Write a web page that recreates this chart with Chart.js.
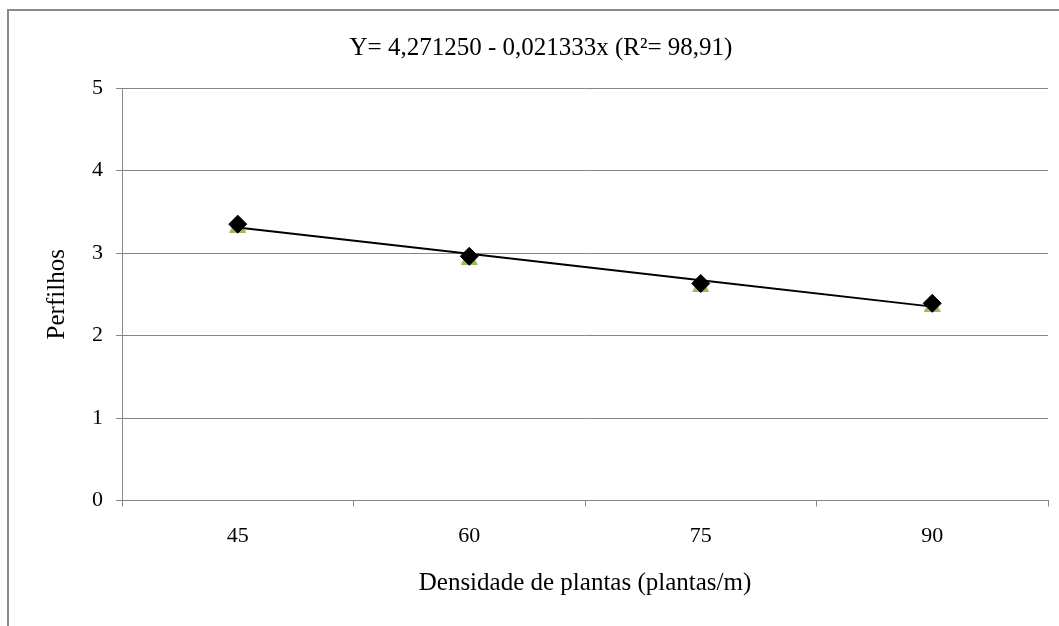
<!DOCTYPE html>
<html>
<head>
<meta charset="utf-8">
<script src="https://cdn.jsdelivr.net/npm/chart.js@4.4.1/dist/chart.umd.min.js"></script>
<style>
    html, body { margin: 0; padding: 0; background: #fff; }
    #wrap { position: relative; width: 1059px; height: 626px; }
</style>
</head>
<body>
<div id="wrap"><canvas id="perfilhosChart" width="1059" height="626"></canvas></div>
<script>
    var densidades = ['45', '60', '75', '90'];
    var perfilhosObservados = [3.35, 2.96, 2.63, 2.39];
    var perfilhosEstimados = [3.31, 2.99, 2.67, 2.35];
    var yTicks = [0, 1, 2, 3, 4, 5];
    var equacao = 'Y= 4,271250 - 0,021333x (R²= 98,91)';

    var serif = '"Liberation Serif", "Times New Roman", serif';
    var gridGrey = '#868686';

    // Excel style triangle marker: apex on top, base on the bottom edge of the box
    function triangleMarker(size, color) {
        var cv = document.createElement('canvas');
        cv.width = size;
        cv.height = size;
        var c = cv.getContext('2d');
        c.fillStyle = color;
        c.beginPath();
        c.moveTo(size / 2, 0);
        c.lineTo(size, size);
        c.lineTo(0, size);
        c.closePath();
        c.fill();
        return cv;
    }

    // grey frame around the whole chart
    var framePlugin = {
        id: 'frame',
        beforeDraw: function (chart) {
            var c = chart.ctx;
            c.save();
            c.strokeStyle = '#8a8a8a';
            c.lineWidth = 2;
            c.beginPath();
            c.moveTo(8, chart.height + 5);
            c.lineTo(8, 10);
            c.lineTo(chart.width + 5, 10);
            c.stroke();
            c.restore();
        }
    };

    var ctx = document.getElementById('perfilhosChart').getContext('2d');

    var perfilhosChart = new Chart(ctx, {
        type: 'line',
        data: {
            labels: densidades,
            datasets: [{
                label: 'Observado',
                data: perfilhosObservados,
                showLine: false,
                pointStyle: 'rectRot',
                pointRadius: 9,
                pointBackgroundColor: '#000',
                pointBorderColor: '#000',
                pointBorderWidth: 1,
                order: 0
            }, {
                label: 'Tendência',
                data: perfilhosEstimados,
                borderColor: '#000',
                borderWidth: 2,
                pointRadius: 0,
                tension: 0,
                order: 1
            }, {
                label: 'Perfilhos',
                data: perfilhosObservados,
                showLine: false,
                pointStyle: triangleMarker(17, '#9BBB59'),
                pointRadius: 9,
                order: 2
            }]
        },
        options: {
            responsive: false,
            animation: false,
            layout: {
                padding: { left: 34, right: 11, top: 0, bottom: 28 }
            },
            scales: {
                x: {
                    offset: true,
                    grid: {
                        offset: true,
                        drawOnChartArea: false,
                        drawTicks: true,
                        tickLength: 6,
                        color: gridGrey
                    },
                    border: { color: gridGrey, width: 1 },
                    ticks: {
                        color: '#000',
                        padding: 17,
                        font: { family: serif, size: 22 }
                    },
                    title: {
                        display: true,
                        text: 'Densidade de plantas (plantas/m)',
                        color: '#000',
                        font: { family: serif, size: 25 },
                        padding: { top: 0, bottom: 0 }
                    },
                    afterFit: function (scale) { scale.height = 97.5; }
                },
                y: {
                    min: 0,
                    max: 5,
                    afterBuildTicks: function (scale) {
                        scale.ticks = yTicks.map(function (v) { return { value: v }; });
                    },
                    grid: {
                        color: gridGrey,
                        tickLength: 6
                    },
                    border: { color: gridGrey, width: 1 },
                    ticks: {
                        color: '#000',
                        padding: 13,
                        font: { family: serif, size: 22 }
                    },
                    title: {
                        display: true,
                        text: 'Perfilhos',
                        color: '#000',
                        font: { family: serif, size: 25 },
                        padding: { top: 8, bottom: 0 }
                    },
                    afterFit: function (scale) { scale.width = 88; }
                }
            },
            plugins: {
                legend: { display: false },
                tooltip: { enabled: false },
                title: {
                    display: true,
                    text: equacao,
                    color: '#000',
                    font: { family: serif, size: 25, weight: 'normal' },
                    padding: { top: 33, bottom: 25 }
                }
            }
        },
        plugins: [framePlugin]
    });
</script>
</body>
</html>
